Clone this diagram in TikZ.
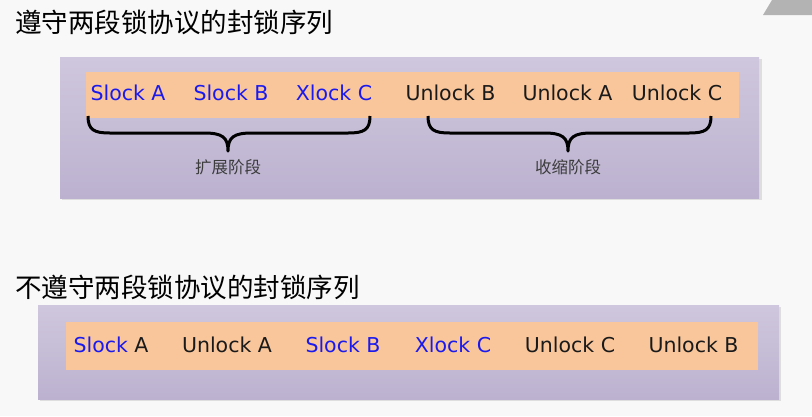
\documentclass[tikz,border=0pt]{standalone}
\usepackage{fontspec}
\setmainfont{DejaVu Sans}
\newfontfamily\cjk{Noto Sans CJK SC}
\definecolor{bgc}{HTML}{F8F8F8}
\definecolor{ptop}{HTML}{CFC7DD}
\definecolor{pbot}{HTML}{BCB2D0}
\definecolor{orng}{HTML}{F9C69B}
\definecolor{blu}{HTML}{1A1AEE}
\definecolor{blk}{HTML}{1A1A1A}
\definecolor{shd}{HTML}{DEDEDE}
\definecolor{tri}{HTML}{B3B3B3}
\definecolor{lbl}{HTML}{3C3C3C}
\tikzset{
  panel/.style={top color=ptop, bottom color=pbot, draw=none},
  band/.style={fill=orng, draw=none},
  op/.style={anchor=base, inner sep=0pt, font=\fontsize{20.5}{24}\selectfont, text=blk},
  lk/.style={op, text=blu},
  title/.style={anchor=west, inner sep=0pt, font=\cjk\fontsize{26.5}{30}\selectfont, text=black},
  phase/.style={inner sep=0pt, font=\cjk\fontsize{16.5}{19}\selectfont, text=lbl},
  bracepath/.style={draw=black, line width=3pt, line join=round}
}
\begin{document}
\begin{tikzpicture}[x=1pt,y=-1pt]
\useasboundingbox (0,0) rectangle (812,416);
\fill[bgc] (0,0) rectangle (812,416);
\fill[tri] (772,0) -- (812,0) -- (812,15) -- (763,15) -- cycle;

% titles
\node[title] (t1) at (15,22) {遵守两段锁协议的封锁序列};
\node[title] (t2) at (15,287) {不遵守两段锁协议的封锁序列};

% panel 1
\fill[shd] (62,59) rectangle (762,200);
\path[panel] (60,57) rectangle (759,198);
\fill[band] (85.5,72) rectangle (739,117.5);
\node[lk] (a1) at (128,100.7) {Slock A};
\node[lk] (a2) at (231,100.7) {Slock B};
\node[lk] (a3) at (334,100.7) {Xlock C};
\node[op] (a4) at (450.5,100.7) {Unlock B};
\node[op] (a5) at (567.5,100.7) {Unlock A};
\node[op] (a6) at (677,100.7) {Unlock C};

% braces
\draw[bracepath] (88,116) .. controls (88,130) and (94,133) .. (110,133)
  -- (204,133) .. controls (222,133) and (228,137) .. (228,151)
  .. controls (228,137) and (234,133) .. (252,133)
  -- (348,133) .. controls (364,133) and (370,130) .. (370,116);
\draw[bracepath] (428,116) .. controls (428,130) and (434,133) .. (450,133)
  -- (544,133) .. controls (562,133) and (568,137) .. (568,151)
  .. controls (568,137) and (574,133) .. (592,133)
  -- (689,133) .. controls (705,133) and (711,130) .. (711,116);
\node[phase] (p1) at (228,167.5) {扩展阶段};
\node[phase] (p2) at (568,167.5) {收缩阶段};

% panel 2
\fill[shd] (40,307) rectangle (781,401);
\path[panel] (38,305) rectangle (779,399);
\fill[band] (66,322) rectangle (758,370);
\node[op] (b1) at (111,352.3) {\textcolor{blu}{Slock} A};
\node[op] (b2) at (227,352.3) {Unlock A};
\node[lk] (b3) at (343,352.3) {Slock B};
\node[lk] (b4) at (453,352.3) {Xlock C};
\node[op] (b5) at (570,352.3) {Unlock C};
\node[op] (b6) at (693.5,352.3) {Unlock B};
\end{tikzpicture}
\end{document}
